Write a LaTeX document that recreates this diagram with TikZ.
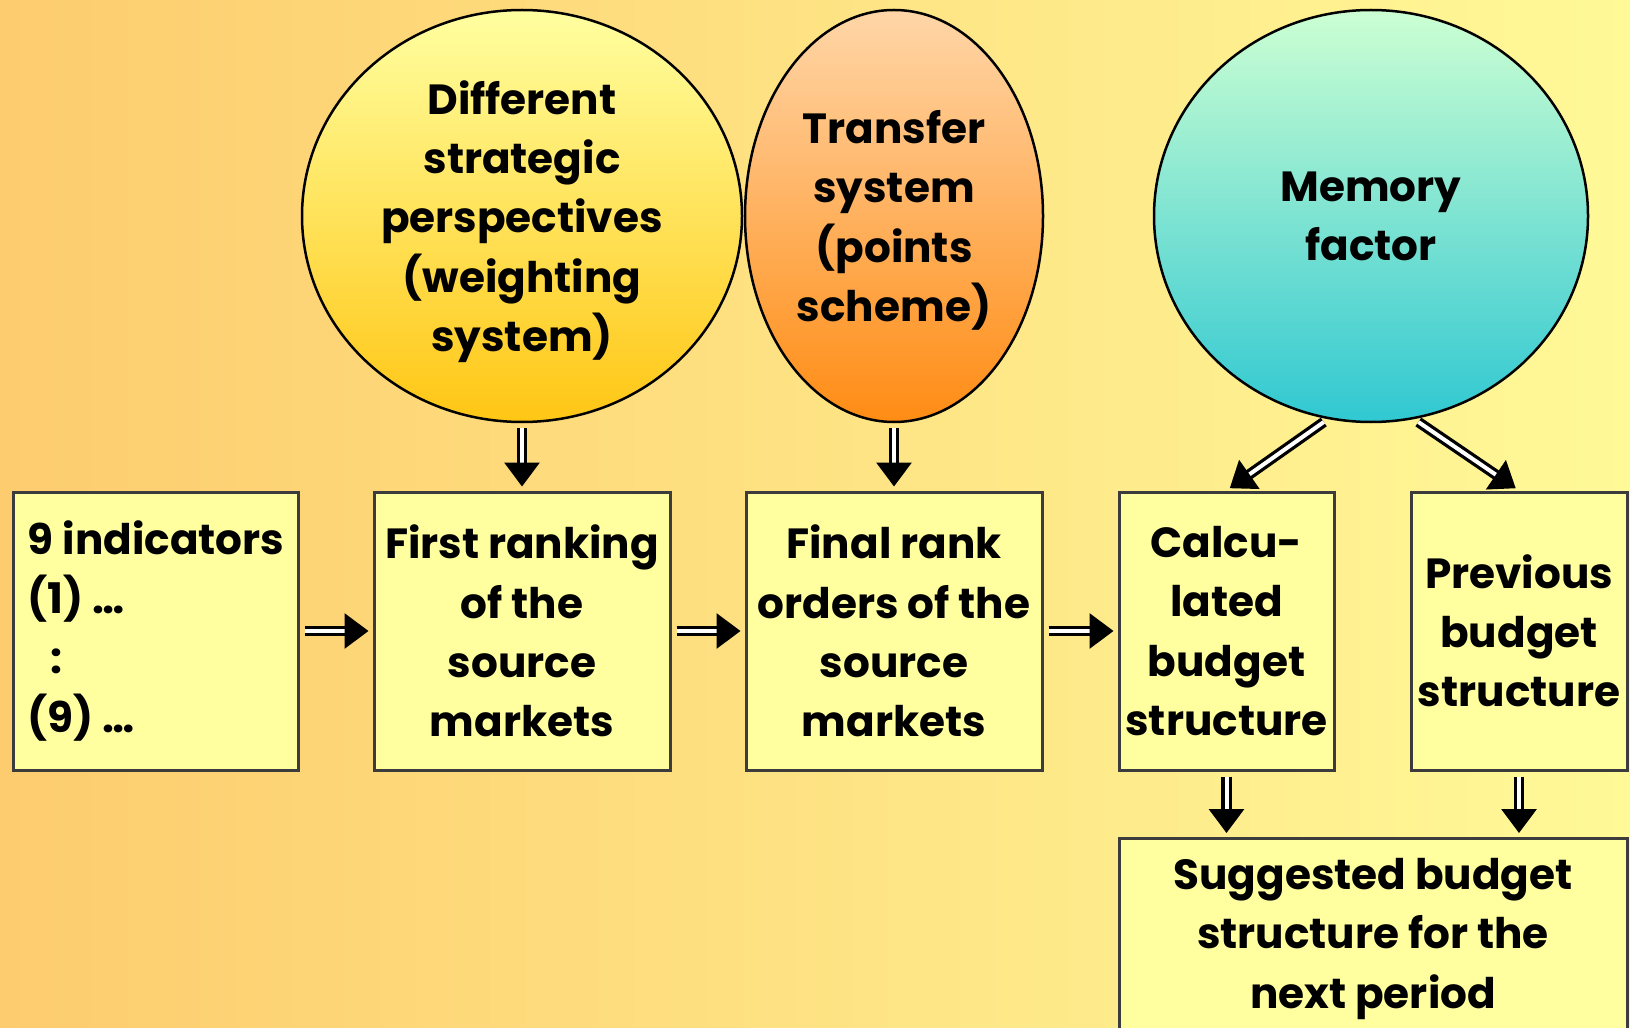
\documentclass[tikz,border=0pt]{standalone}
\usepackage{fontspec}
\setmainfont{Poppins}
\usepackage{xcolor}
\usepackage{tikz}
\usetikzlibrary{shapes.geometric,arrows.meta,positioning,calc}

\definecolor{bgleft}{RGB}{253,204,110}
\definecolor{bgright}{RGB}{255,249,152}
\definecolor{boxfill}{RGB}{255,255,160}
\definecolor{boxline}{RGB}{60,60,60}
\definecolor{yeltop}{RGB}{255,255,160}
\definecolor{yelbot}{RGB}{255,198,20}
\definecolor{orgtop}{RGB}{255,214,168}
\definecolor{orgbot}{RGB}{255,140,20}
\definecolor{teatop}{RGB}{204,255,210}
\definecolor{teabot}{RGB}{48,200,210}

\begin{document}
\begin{tikzpicture}[
  every node/.style={font=\fontsize{24}{33.7}\selectfont\bfseries},
  box/.style={draw=boxline, line width=0.06cm, fill=boxfill, align=center, inner sep=0pt, minimum height=5.56cm},
  bubble/.style={draw, ellipse, line width=0.05cm, align=center, inner sep=0pt, minimum height=8.24cm, text depth=0pt},
  dblarrow/.style={double, double distance=0.08cm, line width=0.065cm, shorten <=0.1cm, shorten >=0.08cm,
    -{Triangle[length=0.48cm,width=0.7cm]}},
  ]
  % background
  \fill[left color=bgleft, right color=bgright] (0,0) rectangle (32.6,-20.56);
  \clip (0,0) rectangle (32.6,-20.56);

  % bubbles
  \node[bubble, top color=yeltop, bottom color=yelbot, minimum width=8.8cm]  (persp)    at (10.44,-4.32) {Different\\strategic\\perspectives\\(weighting\\system)};
  \node[bubble, top color=orgtop, bottom color=orgbot, minimum width=5.96cm] (transfer) at (17.88,-4.32) {Transfer\\system\\(points\\scheme)};
  \node[bubble, top color=teatop, bottom color=teabot, minimum width=8.68cm] (memory)   at (27.42,-4.32) {Memory\\factor};

  % boxes
  \node[box, minimum width=5.7cm, align=left] (ind)   at (3.12,-12.62)  {9 indicators\\(1) \ldots\\\hspace{0.55em}:\\(9) \ldots};
  \node[box, minimum width=5.92cm]            (first) at (10.44,-12.62) {First ranking\\of the\\source\\markets};
  \node[box, minimum width=5.92cm]            (final) at (17.88,-12.62) {Final rank\\orders of the\\source\\markets};
  \node[box, minimum width=4.3cm]             (calc)  at (24.53,-12.62) {Calcu-\\lated\\budget\\structure};
  \node[box, minimum width=4.32cm]            (prev)  at (30.38,-12.62) {Previous\\budget\\structure};
  \node[box, anchor=north, minimum width=10.16cm, minimum height=0pt, inner ysep=0.4cm, text depth=1.4cm] (sugg) at (27.46,-16.74) {Suggested budget\\structure for the\\next period};

  % arrows
  \draw[dblarrow] (ind) -- (first);
  \draw[dblarrow] (first) -- (final);
  \draw[dblarrow] (final) -- (calc);
  \draw[dblarrow] (persp) -- (first);
  \draw[dblarrow] (transfer) -- (final);
  \draw[dblarrow] (memory.258) -- (calc.north);
  \draw[dblarrow] (memory.282) -- (prev.north);
  \draw[dblarrow] (calc) -- (calc |- sugg.north);
  \draw[dblarrow] (prev) -- (prev |- sugg.north);
\end{tikzpicture}
\end{document}
